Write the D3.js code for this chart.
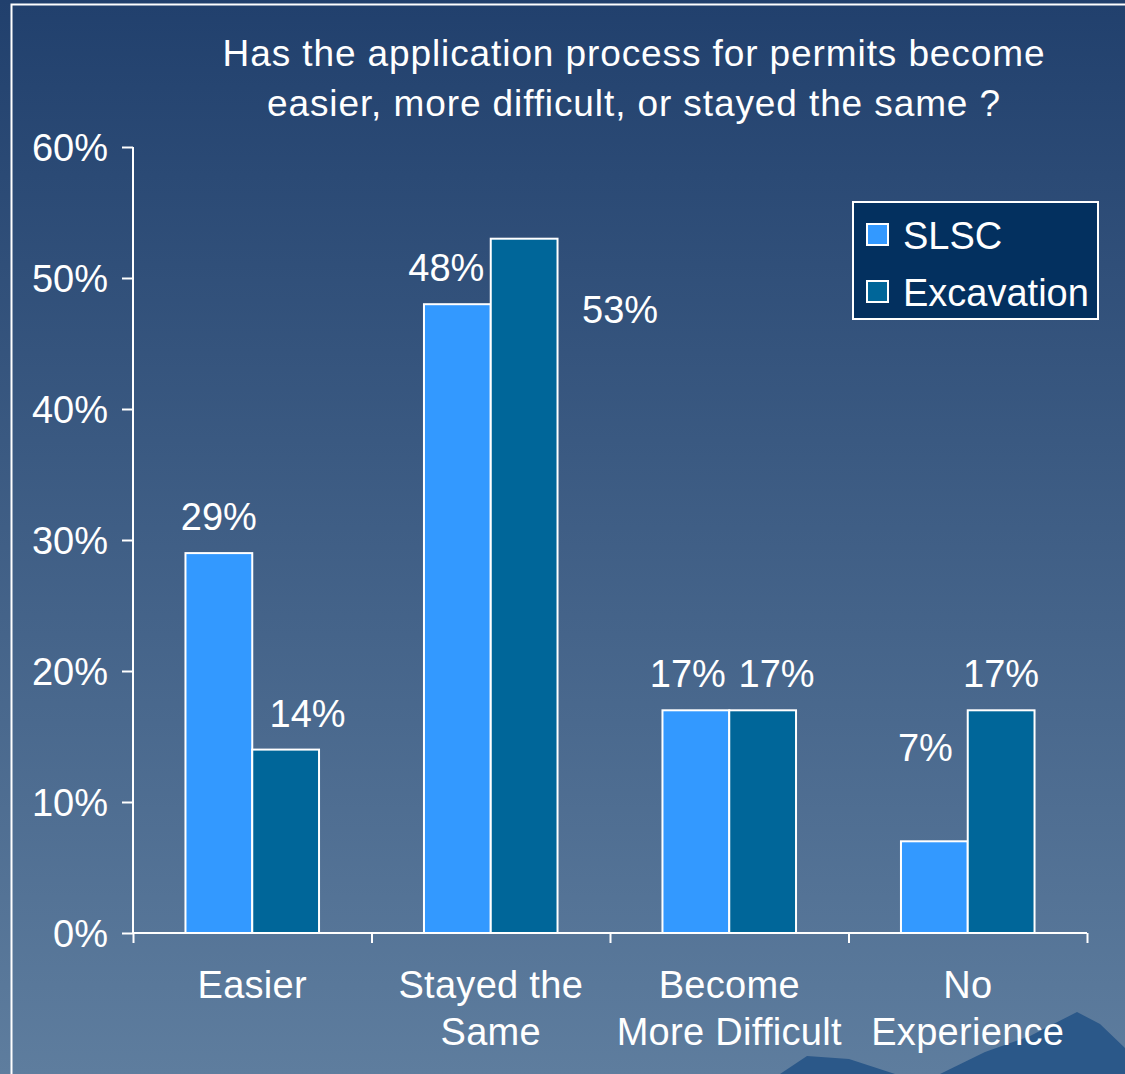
<!DOCTYPE html>
<html>
<head>
<meta charset="utf-8">
<script src="https://cdn.jsdelivr.net/npm/d3@7"></script>
<style>
  html, body { margin: 0; padding: 0; background: #22406e; }
  svg { display: block; }
  text { font-family: "Liberation Sans", Arial, sans-serif; fill: #ffffff; }
</style>
</head>
<body>
<div id="chart"></div>
<script>
// Chart data
let categories = [["Easier"], ["Stayed the", "Same"], ["Become", "More Difficult"], ["No", "Experience"]];
let seriesNames = ["SLSC", "Excavation"];
let slscValues = [29, 48, 17, 7];
let excavationValues = [14, 53, 17, 17];
let yTicks = [0, 10, 20, 30, 40, 50, 60];
let titleLines = ["Has the application process for permits become", "easier, more difficult, or stayed the same ?"];

// label nudges (px) so the value labels sit where they do in the original slide
let labelNudge = [
    [[0, 0], [22, 0]],
    [[-11, 0], [96, 107]],
    [[-8, 0], [14, 0]],
    [[-9, -57], [0, 0]]
];

let width = 1125, height = 1074;
let margin = {top: 147, left: 133, right: 38, bottom: 141};
let colors = ["#3399ff", "#006699"];
let fontSize = 38;

let svg = d3.select("#chart")
    .append("svg")
    .attr("width", width)
    .attr("height", height);

// background gradient
let defs = svg.append("defs");
let grad = defs.append("linearGradient")
    .attr("id", "bg")
    .attr("x1", 0).attr("y1", 0).attr("x2", 0).attr("y2", 1);
grad.append("stop").attr("offset", "0%").attr("stop-color", "#21406d");
grad.append("stop").attr("offset", "100%").attr("stop-color", "#5e7d9e");

svg.append("rect")
    .attr("width", width)
    .attr("height", height)
    .attr("fill", "url(#bg)");

// mountains in the bottom right corner (slide decoration)
let mountains = [
    [[780, 1074], [807, 1056], [849, 1059], [895, 1074]],
    [[940, 1074], [985, 1052], [1030, 1036], [1077, 1012], [1100, 1024], [1125, 1048], [1125, 1074]]
];
svg.selectAll(".mountain")
    .data(mountains)
    .enter().append("path")
    .attr("class", "mountain")
    .attr("d", d => d3.line()(d) + "Z")
    .attr("fill", "#2b5889");

// slide frame
svg.append("path")
    .attr("d", "M11.5,1074 V4.5 H1125")
    .attr("fill", "none")
    .attr("stroke", "#ffffff")
    .attr("stroke-width", 2);

// title
svg.append("text")
    .attr("text-anchor", "middle")
    .attr("font-size", 37)
    .attr("letter-spacing", 0.9)
    .selectAll("tspan")
    .data(titleLines)
    .enter().append("tspan")
    .attr("x", 634)
    .attr("y", (d, i) => 66 + i * 50)
    .text(d => d);

let x0 = d3.scaleBand()
    .domain(d3.range(categories.length))
    .range([margin.left, width - margin.right])
    .paddingInner(0.44)
    .paddingOuter(0.22);
let x1 = d3.scaleBand()
    .domain(d3.range(seriesNames.length))
    .range([0, x0.bandwidth()]);
let y = d3.scaleLinear()
    .domain([0, 60])
    .range([height - margin.bottom, margin.top]);

// axes
let yAxis = svg.append("g")
    .attr("transform", "translate(" + margin.left + ",0)")
    .call(d3.axisLeft(y).tickValues(yTicks).tickSize(11).tickPadding(14).tickFormat(d => d + "%"));
yAxis.selectAll("text").attr("font-size", fontSize).attr("dy", "0.36em");

let tickScale = d3.scaleLinear().domain([0, categories.length]).range([margin.left, width - margin.right]);
let xAxis = svg.append("g")
    .attr("transform", "translate(0," + y(0) + ")")
    .call(d3.axisBottom(tickScale).ticks(categories.length).tickSize(10).tickFormat(""));

svg.selectAll(".domain, .tick line")
    .attr("stroke", "#ffffff")
    .attr("stroke-width", 2);
yAxis.select(".domain").attr("d", "M-0,"+ y(60) + "V" + y(0));
xAxis.select(".domain").attr("d", "M" + margin.left + ",0H" + (width - margin.right));

// category labels
svg.selectAll(".cat")
    .data(categories)
    .enter().append("text")
    .attr("class", "cat")
    .attr("text-anchor", "middle")
    .attr("font-size", fontSize)
    .attr("letter-spacing", 0.3)
    .each(function(d, i) {
        d3.select(this).selectAll("tspan")
            .data(d)
            .enter().append("tspan")
            .attr("x", x0(i) + x0.bandwidth() / 2)
            .attr("y", (t, j) => 998 + j * 47)
            .text(t => t);
    });

// bars
let rows = categories.map((c, i) => [slscValues[i], excavationValues[i]]);
let groups = svg.selectAll(".group")
    .data(rows)
    .enter().append("g")
    .attr("class", "group")
    .attr("transform", (d, i) => "translate(" + x0(i) + ",0)");

groups.selectAll("rect")
    .data(d => d)
    .enter().append("rect")
    .attr("x", (d, j) => x1(j))
    .attr("y", d => y(d))
    .attr("width", x1.bandwidth())
    .attr("height", d => y(0) - y(d))
    .attr("fill", (d, j) => colors[j])
    .attr("stroke", "#ffffff")
    .attr("stroke-width", 2);

groups.selectAll(".value")
    .data((d, i) => d.map((v, j) => ({v: v, i: i, j: j})))
    .enter().append("text")
    .attr("class", "value")
    .attr("text-anchor", "middle")
    .attr("font-size", fontSize)
    .attr("x", d => x1(d.j) + x1.bandwidth() / 2 + labelNudge[d.i][d.j][0])
    .attr("y", d => y(d.v) - 23 + labelNudge[d.i][d.j][1])
    .text(d => d.v + "%");

// legend
let legend = svg.append("g").attr("transform", "translate(853,202)");
legend.append("rect")
    .attr("width", 245)
    .attr("height", 117)
    .attr("fill", "#03305f")
    .attr("stroke", "#ffffff")
    .attr("stroke-width", 2);
let items = legend.selectAll(".item")
    .data(seriesNames)
    .enter().append("g")
    .attr("class", "item")
    .attr("transform", (d, i) => "translate(14," + (33 + i * 57) + ")");
items.append("rect")
    .attr("x", 0).attr("y", -11)
    .attr("width", 21).attr("height", 21)
    .attr("fill", (d, i) => colors[i])
    .attr("stroke", "#ffffff")
    .attr("stroke-width", 2);
items.append("text")
    .attr("x", 36)
    .attr("dy", "0.36em")
    .attr("font-size", fontSize)
    .text(d => d);
</script>
</body>
</html>
